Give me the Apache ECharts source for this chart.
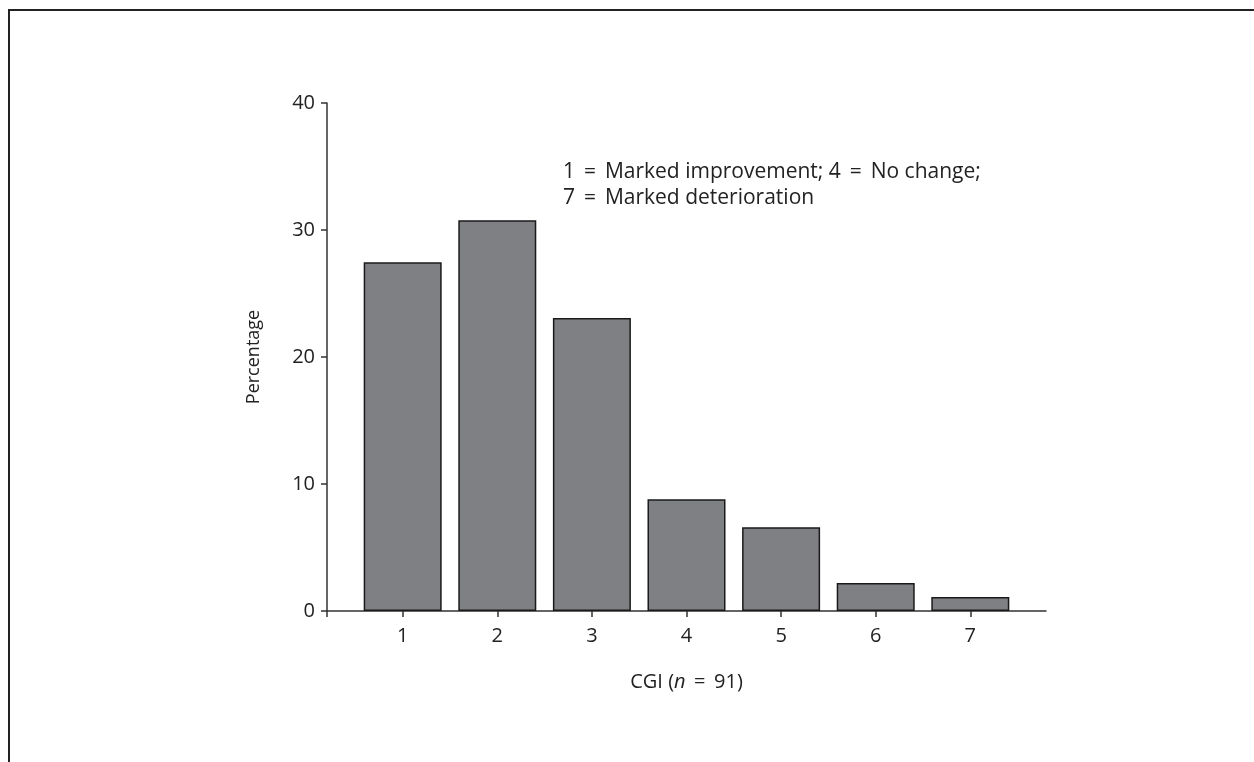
<!DOCTYPE html>
<html>
<head>
<meta charset="utf-8">
<script src="https://cdn.jsdelivr.net/npm/echarts@6/dist/echarts.min.js"></script>
<style>
  html, body { margin: 0; padding: 0; background: #fff; overflow: hidden; }
  #frame { position: absolute; left: 8px; top: 9px; width: 2000px; height: 2000px; border: 2px solid #222; box-sizing: border-box; }
  #chart { position: absolute; left: 0; top: 0; width: 1254px; height: 762px; }
</style>
</head>
<body>
<div id="frame"></div>
<div id="chart"></div>
<script>
const categories = [1, 2, 3, 4, 5, 6, 7];
const percentages = [27.47, 30.77, 23.08, 8.79, 6.59, 2.20, 1.10];
const yTicks = [0, 10, 20, 30, 40];
const noteLines = ['1 \u2009=\u2009 Marked improvement; 4 \u2009=\u2009 No change;', '7 \u2009=\u2009 Marked deterioration'];

const font = '"Open Sans", Lato, sans-serif';
const textColor = '#222';

const chart = echarts.init(document.getElementById('chart'), null, { renderer: 'canvas' });
chart.setOption({
  backgroundColor: 'transparent',
  animation: false,
  grid: { left: 327, right: 208, top: 103, bottom: 151 },
  xAxis: {
    type: 'value',
    min: 0.2,
    max: 7.8,
    name: '{a|CGI (}{i|n}{a| \u2009=\u2009 91)}',
    nameLocation: 'middle',
    nameGap: 61,
    nameTextStyle: {
      rich: {
        a: { fontFamily: font, fontSize: 20, color: textColor },
        i: { fontFamily: font, fontSize: 20, color: textColor, fontStyle: 'italic' }
      }
    },
    axisLine: { lineStyle: { color: '#333', width: 1.5 } },
    axisTick: { show: true, length: 6, lineStyle: { color: '#333', width: 1.5 }, customValues: [0.2].concat(categories) },
    axisLabel: { customValues: categories, color: textColor, fontFamily: font, fontSize: 20, margin: 15 },
    splitLine: { show: false }
  },
  yAxis: {
    type: 'value',
    min: yTicks[0],
    max: yTicks[yTicks.length - 1],
    interval: 10,
    name: 'Percentage',
    nameLocation: 'middle',
    nameGap: 64,
    nameRotate: 90,
    nameTextStyle: { fontFamily: font, fontSize: 18, color: textColor },
    axisLine: { show: true, lineStyle: { color: '#333', width: 1.5 } },
    axisTick: { show: true, length: 6, lineStyle: { color: '#333', width: 1.5 } },
    axisLabel: { color: textColor, fontFamily: font, fontSize: 20, margin: 12 },
    splitLine: { show: false }
  },
  graphic: [
    {
      type: 'text', left: 563, top: 159,
      style: { text: noteLines.join('\n'), fontFamily: font, fontSize: 21, fill: textColor, lineHeight: 26 }
    }
  ],
  series: [{
    type: 'bar',
    data: categories.map((c, i) => [c, percentages[i]]),
    barWidth: 78,
    itemStyle: { color: '#7f8083', borderColor: '#1a1a1a', borderWidth: 1.5 }
  }]
});
</script>
</body>
</html>
